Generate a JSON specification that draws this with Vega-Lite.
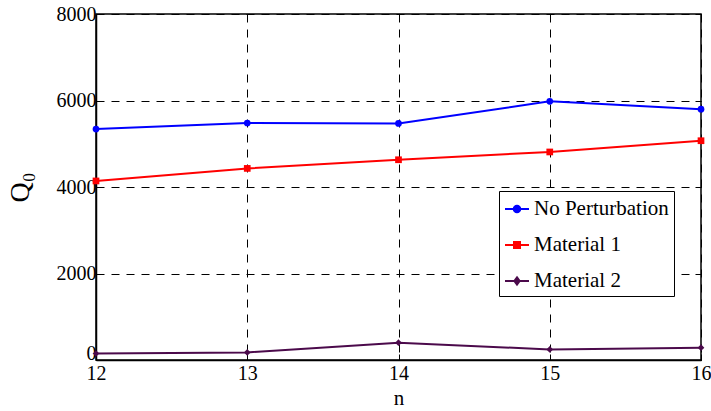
{
  "$schema": "https://vega.github.io/schema/vega-lite/v6.json",
  "width": 605,
  "height": 346,
  "autosize": {"type": "none"},
  "padding": {"left": 96, "top": 14, "right": 10, "bottom": 51},
  "background": "white",
  "config": {
    "view": {"stroke": "black", "strokeWidth": 1.5},
    "font": "Liberation Serif",
    "axis": {
      "labelFont": "Liberation Serif",
      "titleFont": "Liberation Serif",
      "labelFontSize": 20,
      "labelColor": "black",
      "titleColor": "black",
      "titleFontWeight": "normal",
      "domainColor": "black",
      "domainWidth": 1.5,
      "tickColor": "black",
      "tickWidth": 1,
      "tickSize": -6,
      "gridColor": "black",
      "gridOpacity": 1,
      "gridWidth": 1,
      "gridDash": [8, 7]
    }
  },
  "data": {
    "values": [
      {"n": 12, "Q": 5340, "series": "No Perturbation"},
      {"n": 13, "Q": 5480, "series": "No Perturbation"},
      {"n": 14, "Q": 5470, "series": "No Perturbation"},
      {"n": 15, "Q": 5980, "series": "No Perturbation"},
      {"n": 16, "Q": 5800, "series": "No Perturbation"},
      {"n": 12, "Q": 4140, "series": "Material 1"},
      {"n": 13, "Q": 4430, "series": "Material 1"},
      {"n": 14, "Q": 4630, "series": "Material 1"},
      {"n": 15, "Q": 4810, "series": "Material 1"},
      {"n": 16, "Q": 5070, "series": "Material 1"},
      {"n": 12, "Q": 150, "series": "Material 2"},
      {"n": 13, "Q": 175, "series": "Material 2"},
      {"n": 14, "Q": 400, "series": "Material 2"},
      {"n": 15, "Q": 245, "series": "Material 2"},
      {"n": 16, "Q": 285, "series": "Material 2"}
    ]
  },
  "resolve": {"axis": {"x": "independent", "y": "independent"}},
  "layer": [
    {
      "mark": {"type": "line", "strokeWidth": 2},
      "encoding": {
        "x": {
          "field": "n", "type": "quantitative",
          "scale": {"domain": [12, 16], "nice": false, "zero": false},
          "axis": {"orient": "bottom", "values": [12, 13, 14, 15, 16], "format": "d", "grid": true, "title": "n", "titleFontSize": 21, "titlePadding": 4, "labelPadding": 9, "labelFlush": false}
        },
        "y": {
          "field": "Q", "type": "quantitative",
          "scale": {"domain": [0, 8000], "nice": false},
          "axis": {"orient": "left", "values": [0, 2000, 4000, 6000, 8000], "format": "d", "grid": true, "title": "Q₀", "titleFontSize": 28, "titlePadding": 22, "labelPadding": 6, "labelFlush": false,
            "labelOffset": {"condition": {"test": "datum.value === 0", "value": -7}, "value": 0}}
        },
        "color": {
          "field": "series", "type": "nominal",
          "scale": {"domain": ["No Perturbation", "Material 1", "Material 2"], "range": ["#0000ff", "#ff0000", "#4b0a4b"]},
          "legend": {
            "title": null,
            "orient": "none",
            "legendX": 403,
            "legendY": 177,
            "fillColor": "white",
            "strokeColor": "black",
            "padding": 5,
            "cornerRadius": 0,
            "labelFont": "Liberation Serif",
            "labelFontSize": 21,
            "labelColor": "black",
            "labelOffset": 4,
            "labelLimit": 300,
            "rowPadding": 13,
            "symbolSize": 576,
            "symbolStrokeWidth": 2,
            "symbolOpacity": 1,
            "encode": {
              "symbols": {
                "update": {
                  "shape": {"signal": "datum.value === 'No Perturbation' ? 'M-1,0H1M0.27,0A0.27,0.27,0,1,1,-0.27,0A0.27,0.27,0,1,1,0.27,0Z' : (datum.value === 'Material 1' ? 'M-1,0H1M-0.25,-0.25H0.25V0.25H-0.25Z' : 'M-1,0H1M0,-0.3L0.22,0L0,0.3L-0.22,0Z')"},
                  "stroke": {"signal": "scale('color', datum.value)"},
                  "fill": {"signal": "scale('color', datum.value)"}
                }
              }
            }
          }
        }
      }
    },
    {
      "mark": {"type": "point", "filled": true, "opacity": 1},
      "encoding": {
        "x": {
          "field": "n", "type": "quantitative",
          "axis": {"orient": "top", "values": [12, 13, 14, 15, 16], "labels": false, "grid": false, "title": null, "domain": false}
        },
        "y": {
          "field": "Q", "type": "quantitative",
          "axis": {"orient": "right", "values": [0, 2000, 4000, 6000, 8000], "labels": false, "grid": false, "title": null, "domain": false}
        },
        "color": {"field": "series", "type": "nominal"},
        "shape": {
          "condition": [
            {"test": "datum.series === 'Material 1'", "value": "square"},
            {"test": "datum.series === 'Material 2'", "value": "diamond"}
          ],
          "value": "circle"
        },
        "size": {"value": 45}
      }
    }
  ]
}
